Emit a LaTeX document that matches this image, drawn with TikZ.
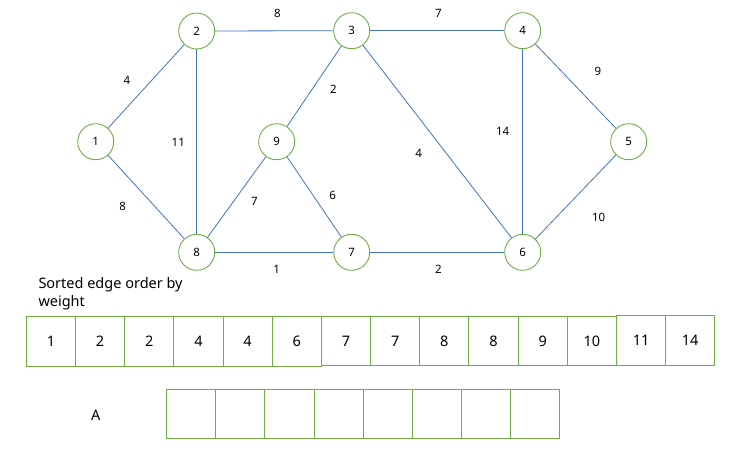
\documentclass[tikz,border=0pt]{standalone}
\usepackage{fontspec}
\setmainfont{Noto Sans}
\definecolor{vgreen}{HTML}{70AD47}
\definecolor{eblue}{HTML}{4472C4}
\begin{document}
\begin{tikzpicture}[x=1pt,y=-1pt,
  vtx/.style={circle,draw=vgreen,line width=0.9pt,minimum size=36pt,inner sep=0pt,font=\fontsize{11.5}{13}\selectfont},
  edge/.style={draw=eblue,line width=0.8pt},
  wlab/.style={inner sep=0pt,font=\fontsize{11.5}{13}\selectfont},
  cell/.style={draw=vgreen,line width=0.9pt,minimum width=49.2pt,minimum height=49.3pt,inner sep=0pt,outer sep=0pt,font=\fontsize{14.5}{16}\selectfont},
  lab/.style={inner sep=0pt,font=\fontsize{14.5}{18}\selectfont}]
\useasboundingbox (0,0) rectangle (750,468);
% vertices
\node[vtx] (n1) at (95.7,141.7) {1};
\node[vtx] (n2) at (196.7,31) {2};
\node[vtx] (n3) at (351.7,30.7) {3};
\node[vtx] (n4) at (522.7,30.7) {4};
\node[vtx] (n5) at (628.7,141.7) {5};
\node[vtx] (n6) at (522.7,252.3) {6};
\node[vtx] (n7) at (351.7,252.3) {7};
\node[vtx] (n8) at (196.7,252.3) {8};
\node[vtx] (n9) at (276.7,141.7) {9};
% edges
\draw[edge] (n1) -- (n2);
\draw[edge] (n1) -- (n8);
\draw[edge] (n2) -- (n3);
\draw[edge] (n2) -- (n8);
\draw[edge] (n3) -- (n4);
\draw[edge] (n3) -- (n9);
\draw[edge] (n3) -- (n6);
\draw[edge] (n4) -- (n5);
\draw[edge] (n4) -- (n6);
\draw[edge] (n5) -- (n6);
\draw[edge] (n8) -- (n9);
\draw[edge] (n9) -- (n7);
\draw[edge] (n8) -- (n7);
\draw[edge] (n7) -- (n6);
% weights
\node[wlab] (w23) at (277.3,13.3) {8};
\node[wlab] (w12) at (127,80) {4};
\node[wlab] (w28) at (178.3,142.7) {11};
\node[wlab] (w39) at (333.3,89) {2};
\node[wlab] (w18) at (122.7,206.7) {8};
\node[wlab] (w89) at (254.3,201) {7};
\node[wlab] (w97) at (332.7,195.7) {6};
\node[wlab] (w87) at (276.7,269) {1};
\node[wlab] (w34) at (438.3,13.3) {7};
\node[wlab] (w45) at (598,71) {9};
\node[wlab] (w46) at (502.7,131) {14};
\node[wlab] (w36) at (418.7,153.3) {4};
\node[wlab] (w56) at (598.7,217) {10};
\node[wlab] (w76) at (438.3,269) {2};
% sorted edges label
\node[lab,align=left,anchor=west] (title) at (38.3,294) {Sorted edge order by\\weight};
% sorted row
\foreach \v [count=\i] in {1,2,2,4,4,6}{
  \node[cell] (s\i) at ({26.3+24.6+(\i-1)*49.18},341.3) {\v};
}
\foreach \v [count=\i from 7] in {7,7,8,8,9,10}{
  \node[cell,minimum height=48.6pt] (s\i) at ({26.3+24.6+(\i-1)*49.18},341.0) {\v};
}
\foreach \v [count=\i from 13] in {11,14}{
  \node[cell,minimum height=50pt] (s\i) at ({26.3+24.6+(\i-1)*49.18},340.3) {\v};
}
% A row
\node[lab] (A) at (95.7,415.7) {A};
\foreach \i in {1,...,8}{
  \node[cell] (a\i) at ({166.5+24.6+(\i-1)*49.16},413.7) {};
}
\end{tikzpicture}
\end{document}
